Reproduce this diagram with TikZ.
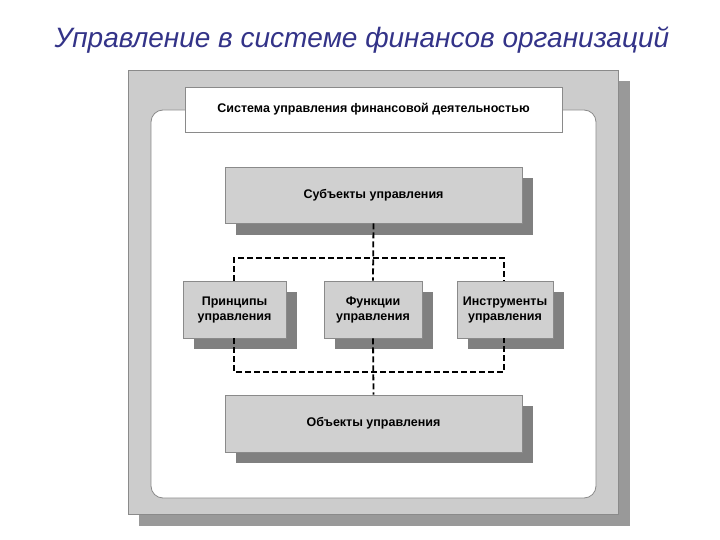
\documentclass[tikz,border=0pt]{standalone}
\usepackage{fontspec}
\setmainfont{Liberation Sans}
\definecolor{titleblue}{HTML}{333388}
\definecolor{boxgray}{HTML}{D0D0D0}
\definecolor{shadowgray}{HTML}{808080}
\definecolor{framegray}{HTML}{CCCCCC}
\definecolor{frameshadow}{HTML}{999999}
\definecolor{edgegray}{HTML}{8A8A8A}
\begin{document}
\begin{tikzpicture}[x=1pt,y=-1pt,
  graybox/.style={draw=edgegray, line width=0.8pt, fill=boxgray, font=\bfseries\fontsize{12.5}{15}\selectfont, align=center, inner sep=0pt},
  boxshadow/.style={fill=shadowgray, draw=none},
  conn/.style={line width=1.8pt, dash pattern=on 6pt off 3pt}]
\useasboundingbox (0,0) rectangle (720,540);
% title
\node[font=\itshape\fontsize{28}{32}\selectfont, text=titleblue] (title) at (362,40) {Управление в системе финансов организаций};
% outer frame
\fill[frameshadow] (139,81) rectangle (630,526);
\filldraw[fill=framegray, draw=edgegray, line width=0.8pt] (128,70) rectangle (618,514);
\filldraw[fill=white, draw=edgegray, line width=0.8pt, rounded corners=12pt] (151,110) rectangle (596,498);
% header box
\node[draw=edgegray, line width=0.8pt, fill=white, minimum width=377pt, minimum height=45pt, inner sep=0pt, font=\bfseries\fontsize{12.5}{15}\selectfont] (head) at (373.5,109.5) {Система управления финансовой деятельностью};
% shadows
\fill[boxshadow] (236,178) rectangle (533,235);
\fill[boxshadow] (194,292) rectangle (297,349);
\fill[boxshadow] (335,292) rectangle (433,349);
\fill[boxshadow] (468,292) rectangle (564,349);
\fill[boxshadow] (236,406) rectangle (533,463);
% boxes
\node[graybox, minimum width=297pt, minimum height=56pt] (subj) at (373.5,195) {Субъекты управления};
\node[graybox, minimum width=103pt, minimum height=57pt] (princ) at (234.5,309.5) {Принципы\\управления};
\node[graybox, minimum width=98pt, minimum height=57pt] (func) at (373,309.5) {Функции\\управления};
\node[graybox, minimum width=96pt, minimum height=57pt] (instr) at (505,309.5) {Инструменты\\управления};
\node[graybox, minimum width=297pt, minimum height=57pt] (obj) at (373.5,423.5) {Объекты управления};
% connectors
\coordinate (tl) at (234,258);
\coordinate (tr) at (504,258);
\coordinate (bl) at (234,372);
\coordinate (br) at (504,372);
\draw[conn] (subj.south) -- (func.north);
\draw[conn] (princ.north -| tl) -- (tl) -- (tr) -- (instr.north -| tr);
\draw[conn] (princ.south -| bl) -- (bl) -- (br) -- (instr.south -| br);
\draw[conn] (func.south) -- (obj.north);
\end{tikzpicture}
\end{document}
